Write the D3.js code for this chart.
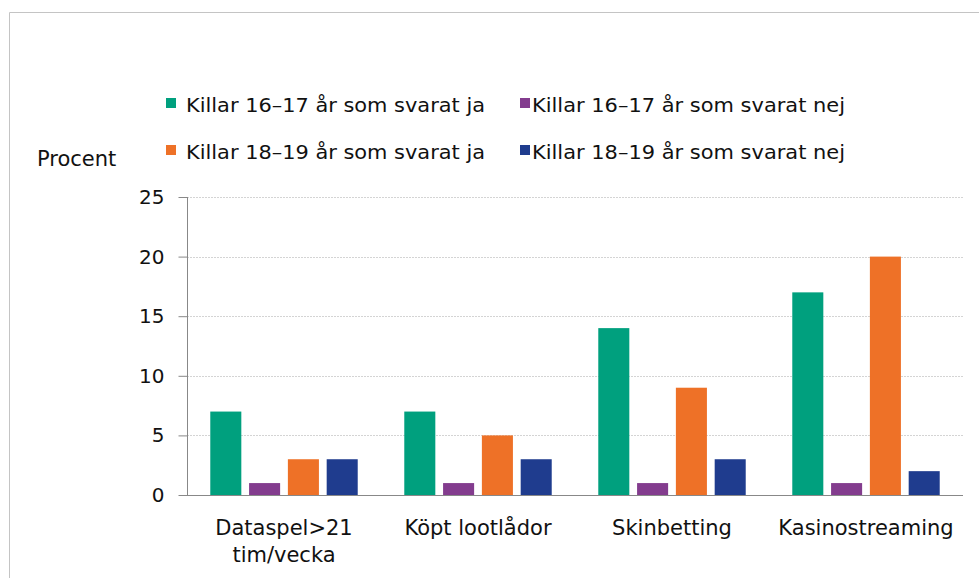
<!DOCTYPE html>
<html>
<head>
<meta charset="utf-8">
<script src="https://cdn.jsdelivr.net/npm/d3@7"></script>
<style>
  body { margin: 0; background: #fff; }
  text { font-family: "DejaVu Sans", Verdana, sans-serif; fill: #111; }
</style>
</head>
<body>
<svg id="chart" width="979" height="578"></svg>
<script>
var categories = [["Dataspel>21", "tim/vecka"], ["Köpt lootlådor"], ["Skinbetting"], ["Kasinostreaming"]];
var seriesNames = ["Killar 16–17 år som svarat ja", "Killar 16–17 år som svarat nej",
                   "Killar 18–19 år som svarat ja", "Killar 18–19 år som svarat nej"];
var colors = ["#00a07e", "#833c8e", "#ee7127", "#1f3c8e"];
var values = [
  [7, 7, 14, 17],   // 16-17 ja
  [1, 1, 1, 1],     // 16-17 nej
  [3, 5, 9, 20],    // 18-19 ja
  [3, 3, 3, 2]      // 18-19 nej
];
var yTicks = [0, 5, 10, 15, 20, 25];

var svg = d3.select("#chart");

// outer frame
svg.append("path")
  .attr("d", "M9.5,578 V12.5 H979")
  .attr("fill", "none").attr("stroke", "#c4c4c4");

var plotL = 187, plotR = 963, plotT = 197, plotB = 495;

var x0 = d3.scaleBand().domain(d3.range(categories.length)).range([plotL, plotR]).paddingInner(0.24).paddingOuter(0.12);
var x1 = d3.scaleBand().domain(d3.range(seriesNames.length)).range([0, x0.bandwidth()]).paddingInner(0.2);
var y = d3.scaleLinear().domain([0, 25]).range([plotB, plotT]);

// gridlines
svg.append("g").selectAll("line")
  .data(yTicks.filter(function(d) { return d > 0; }))
  .enter().append("line")
  .attr("x1", plotL).attr("x2", plotR)
  .attr("y1", function(d) { return Math.round(y(d)) + 0.5; })
  .attr("y2", function(d) { return Math.round(y(d)) + 0.5; })
  .attr("stroke", "#d4d4d4").attr("stroke-dasharray", "2,1");

// bars
var groups = svg.append("g").selectAll("g")
  .data(categories).enter().append("g")
  .attr("transform", function(d, i) { return "translate(" + x0(i) + ",0)"; });

groups.selectAll("rect")
  .data(function(d, i) { return values.map(function(s, j) { return { s: j, v: s[i] }; }); })
  .enter().append("rect")
  .attr("x", function(d) { return x1(d.s); })
  .attr("width", x1.bandwidth())
  .attr("y", function(d) { return y(d.v); })
  .attr("height", function(d) { return plotB - y(d.v); })
  .attr("fill", function(d) { return colors[d.s]; });

// y axis
var yAxis = svg.append("g")
  .attr("transform", "translate(" + (plotL + 0.5) + ",0)")
  .call(d3.axisLeft(y).tickValues(yTicks).tickSize(9).tickPadding(14));
yAxis.selectAll("line, path").attr("stroke", "#888");
yAxis.select(".domain").attr("d", "M0," + plotT + "V" + plotB);
yAxis.selectAll("text").style("font-size", "20px").attr("fill", "#111")
  .style("font-family", "DejaVu Sans, Verdana, sans-serif");

// x baseline
svg.append("line")
  .attr("x1", plotL).attr("x2", plotR)
  .attr("y1", plotB + 0.5).attr("y2", plotB + 0.5)
  .attr("stroke", "#888");

// category labels
svg.append("g").selectAll("text")
  .data(categories).enter().append("text")
  .attr("text-anchor", "middle")
  .style("font-size", "21px")
  .attr("x", function(d, i) { return x0(i) + x0.bandwidth() / 2; })
  .attr("y", 535)
  .each(function(d) {
    var t = d3.select(this);
    d.forEach(function(line, k) {
      t.append("tspan").attr("x", t.attr("x")).attr("dy", k ? 27 : 0).text(line);
    });
  });

// y title
svg.append("text").attr("x", 37).attr("y", 166).style("font-size", "21px").text("Procent");

// legend
var legendPos = [[166, 98], [520, 98], [166, 145], [520, 145]];
var legend = svg.append("g").selectAll("g")
  .data(seriesNames).enter().append("g")
  .attr("transform", function(d, i) { return "translate(" + legendPos[i][0] + "," + legendPos[i][1] + ")"; });
legend.append("rect").attr("width", 10).attr("height", 10)
  .attr("fill", function(d, i) { return colors[i]; });
legend.append("text")
  .attr("x", function(d, i) { return i % 2 ? 12 : 20; })
  .attr("y", 14).style("font-size", "20px")
  .attr("textLength", function(d, i) { return i % 2 ? 313 : 299; })
  .attr("lengthAdjust", "spacingAndGlyphs")
  .text(function(d) { return d; });
</script>
</body>
</html>
